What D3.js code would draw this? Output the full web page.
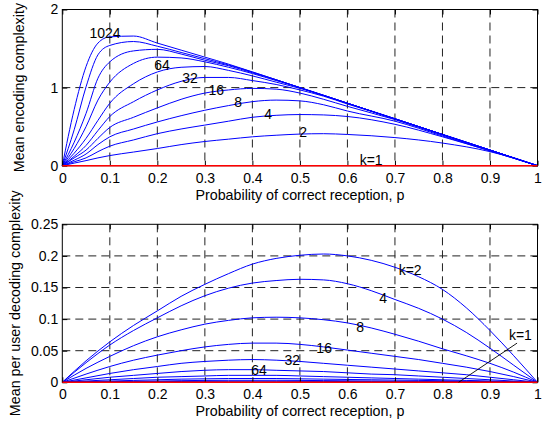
<!DOCTYPE html>
<html>
<head>
<meta charset="utf-8">
<script src="https://cdn.jsdelivr.net/npm/d3@7/dist/d3.min.js"></script>
<style>
  body { margin: 0; background: #fff; }
  svg { display: block; font-family: "Liberation Sans", Arial, sans-serif; }
  .grid line { stroke: #222; stroke-width: 1; stroke-dasharray: 8,5; }
  .axis text { font-size: 14px; fill: #000; }
  .axis line { stroke: #000; }
  .axis path { display: none; }
  .frame { fill: none; stroke: #000; stroke-width: 1; }
  .curve { fill: none; stroke: #0000ff; stroke-width: 1; }
  .curve-k1 { fill: none; stroke: #ff0000; stroke-width: 1.6; }
  .lbl { font-size: 14px; fill: #000; }
  .ttl { font-size: 14.3px; fill: #000; }
</style>
</head>
<body>
<svg id="chart" width="548" height="421"></svg>
<script>
// ---- top panel: mean encoding complexity ----
const encP = [0, 0.025, 0.05, 0.075, 0.1, 0.15, 0.2, 0.25, 0.3, 0.35, 0.4, 0.45, 0.5, 0.55, 0.6, 0.7, 0.8, 0.9, 1];
const encK1    = [0, 0, 0, 0, 0, 0, 0, 0, 0, 0, 0, 0, 0, 0, 0, 0, 0, 0, 0];
const encK2    = [0, 0.033, 0.065, 0.1, 0.13, 0.175, 0.22, 0.27, 0.31, 0.34, 0.37, 0.39, 0.405, 0.41, 0.4, 0.36, 0.29, 0.18, 0];
const encK4    = [0, 0.05, 0.1, 0.18, 0.25, 0.33, 0.41, 0.47, 0.52, 0.57, 0.62, 0.645, 0.655, 0.65, 0.63, 0.53, 0.37, 0.19, 0];
const encK8    = [0, 0.07, 0.15, 0.27, 0.37, 0.47, 0.56, 0.64, 0.71, 0.77, 0.82, 0.84, 0.83, 0.78, 0.7, 0.57, 0.38, 0.19, 0];
const encK16   = [0, 0.1, 0.2, 0.35, 0.49, 0.62, 0.74, 0.85, 0.93, 0.97, 0.99, 0.98, 0.93, 0.85, 0.76, 0.59, 0.39, 0.2, 0];
const encK32   = [0, 0.12, 0.26, 0.45, 0.63, 0.82, 0.97, 1.08, 1.13, 1.13, 1.09, 1.04, 0.97, 0.89, 0.79, 0.6, 0.4, 0.2, 0];
const encK64   = [0, 0.16, 0.35, 0.58, 0.8, 1.05, 1.2, 1.26, 1.27, 1.22, 1.15, 1.07, 0.99, 0.9, 0.8, 0.6, 0.4, 0.2, 0];
const encK128  = [0, 0.22, 0.5, 0.84, 1.07, 1.31, 1.39, 1.38, 1.33, 1.26, 1.18, 1.09, 1.0, 0.9, 0.8, 0.6, 0.4, 0.2, 0];
const encK256  = [0, 0.3, 0.67, 1.12, 1.33, 1.47, 1.49, 1.43, 1.35, 1.28, 1.19, 1.1, 1.0, 0.9, 0.8, 0.6, 0.4, 0.2, 0];
const encK512  = [0, 0.46, 1.01, 1.42, 1.54, 1.59, 1.53, 1.45, 1.37, 1.29, 1.2, 1.1, 1.0, 0.9, 0.8, 0.6, 0.4, 0.2, 0];
const encK1024 = [0, 0.72, 1.27, 1.57, 1.65, 1.66, 1.57, 1.48, 1.39, 1.3, 1.2, 1.1, 1.0, 0.9, 0.8, 0.6, 0.4, 0.2, 0];
const encSeries = [encK2, encK4, encK8, encK16, encK32, encK64, encK128, encK256, encK512, encK1024];
const encLabels = [
  { text: "1024", p: 0.090, v: 1.633 },
  { text: "64",   p: 0.210, v: 1.224 },
  { text: "32",   p: 0.269, v: 1.058 },
  { text: "16",   p: 0.324, v: 0.904 },
  { text: "8",    p: 0.370, v: 0.750 },
  { text: "4",    p: 0.433, v: 0.597 },
  { text: "2",    p: 0.507, v: 0.367 },
  { text: "k=1",  p: 0.650, v: 0.010 }
];

// ---- bottom panel: mean per user decoding complexity ----
const decP = [0, 0.05, 0.1, 0.15, 0.2, 0.25, 0.3, 0.35, 0.4, 0.45, 0.5, 0.55, 0.6, 0.65, 0.7, 0.75, 0.8, 0.85, 0.9, 0.95, 1];
const decK1    = [0, 0, 0, 0, 0, 0, 0, 0, 0, 0, 0, 0, 0, 0, 0, 0, 0, 0, 0, 0, 0];
const decK2    = [0, 0.034, 0.064, 0.09, 0.113, 0.136, 0.155, 0.172, 0.187, 0.196, 0.201, 0.203, 0.2, 0.193, 0.182, 0.167, 0.147, 0.118, 0.082, 0.042, 0];
const decK4    = [0, 0.031, 0.059, 0.082, 0.102, 0.121, 0.137, 0.149, 0.157, 0.161, 0.163, 0.162, 0.156, 0.145, 0.131, 0.117, 0.1, 0.079, 0.054, 0.027, 0];
const decK8    = [0, 0.022, 0.041, 0.058, 0.072, 0.083, 0.092, 0.098, 0.102, 0.103, 0.102, 0.099, 0.094, 0.086, 0.076, 0.065, 0.053, 0.042, 0.03, 0.016, 0];
const decK16   = [0, 0.013, 0.025, 0.035, 0.043, 0.05, 0.056, 0.06, 0.062, 0.062, 0.06, 0.056, 0.051, 0.046, 0.041, 0.036, 0.03, 0.024, 0.017, 0.009, 0];
const decK32   = [0, 0.007, 0.014, 0.02, 0.025, 0.03, 0.033, 0.035, 0.036, 0.035, 0.033, 0.03, 0.027, 0.024, 0.021, 0.018, 0.015, 0.012, 0.008, 0.004, 0];
const decK64   = [0, 0.004, 0.008, 0.011, 0.014, 0.017, 0.019, 0.02, 0.02, 0.019, 0.018, 0.017, 0.015, 0.013, 0.012, 0.01, 0.008, 0.006, 0.004, 0.002, 0];
const decK128  = [0, 0.002, 0.004, 0.006, 0.008, 0.009, 0.01, 0.011, 0.011, 0.011, 0.01, 0.009, 0.008, 0.007, 0.006, 0.005, 0.004, 0.003, 0.002, 0.001, 0];
const decK256  = [0, 0.001, 0.002, 0.003, 0.004, 0.005, 0.0055, 0.006, 0.006, 0.006, 0.0055, 0.005, 0.0045, 0.004, 0.0035, 0.003, 0.0025, 0.002, 0.0013, 0.0007, 0];
const decK512  = [0, 0.0005, 0.001, 0.0016, 0.002, 0.0026, 0.003, 0.0032, 0.0032, 0.0032, 0.003, 0.0027, 0.0024, 0.0021, 0.0018, 0.0015, 0.0013, 0.001, 0.0007, 0.0003, 0];
const decK1024 = [0, 0.0003, 0.0005, 0.0008, 0.001, 0.0013, 0.0015, 0.0016, 0.0017, 0.0016, 0.0015, 0.0014, 0.0012, 0.0011, 0.0009, 0.0008, 0.0006, 0.0005, 0.0003, 0.0002, 0];
const decSeries = [decK2, decK4, decK8, decK16, decK32, decK64, decK128, decK256, decK512, decK1024];
const decLabels = [
  { text: "k=2", p: 0.732, v: 0.170 },
  { text: "4",   p: 0.675, v: 0.125 },
  { text: "8",   p: 0.627, v: 0.080 },
  { text: "16",  p: 0.551, v: 0.0467 },
  { text: "32",  p: 0.484, v: 0.0274 },
  { text: "64",  p: 0.414, v: 0.0116 },
  { text: "k=1", p: 0.964, v: 0.067 }
];
const decPointer = [{ p: 0.834, v: 0 }, { p: 0.957, v: 0.062 }];

const xTicks = [0, 0.1, 0.2, 0.3, 0.4, 0.5, 0.6, 0.7, 0.8, 0.9, 1];
const encYTicks = [0, 1, 2];
const decYTicks = [0, 0.05, 0.1, 0.15, 0.2, 0.25];
const xTitle = "Probability of correct reception, p";

(function () {
  const svg = d3.select("#chart");

  function makePanel(opt) {
    const left = 62.3, right = 537.5;
    const x = d3.scaleLinear().domain([0, 1]).range([left, right]);
    const y = d3.scaleLinear().domain(opt.yDomain).range([opt.bottom, opt.top]);
    const g = svg.append("g");

    // dashed grid
    const grid = g.append("g").attr("class", "grid");
    grid.selectAll(".gx").data(xTicks.slice(1, -1)).join("line")
      .attr("x1", d => x(d)).attr("x2", d => x(d))
      .attr("y1", opt.top).attr("y2", opt.bottom);
    grid.selectAll(".gy").data(opt.yTicks.slice(1, -1)).join("line")
      .attr("x1", left).attr("x2", right)
      .attr("y1", d => y(d)).attr("y2", d => y(d));

    // curves
    const line = d3.line()
      .x((d, i) => x(opt.p[i]))
      .y(d => y(d))
      .curve(d3.curveMonotoneX);
    g.selectAll(".curve").data(opt.series).join("path")
      .attr("class", "curve")
      .attr("d", d => line(d));

    // axes, ticks pointing inwards on all four sides
    g.append("g").attr("class", "axis")
      .attr("transform", `translate(0,${opt.bottom})`)
      .call(d3.axisBottom(x).tickValues(xTicks).tickSizeInner(-5).tickSizeOuter(0).tickPadding(7).tickFormat(d3.format("~g")));
    g.append("g").attr("class", "axis")
      .attr("transform", `translate(0,${opt.top})`)
      .call(d3.axisTop(x).tickValues(xTicks).tickSizeInner(-5).tickSizeOuter(0).tickFormat(""));
    g.append("g").attr("class", "axis")
      .attr("transform", `translate(${left},0)`)
      .call(d3.axisLeft(y).tickValues(opt.yTicks).tickSizeInner(-5).tickSizeOuter(0).tickPadding(4).tickFormat(d3.format("~g")));
    g.append("g").attr("class", "axis")
      .attr("transform", `translate(${right},0)`)
      .call(d3.axisRight(y).tickValues(opt.yTicks).tickSizeInner(-5).tickSizeOuter(0).tickFormat(""));

    g.append("rect").attr("class", "frame")
      .attr("x", left).attr("y", opt.top)
      .attr("width", right - left).attr("height", opt.bottom - opt.top);

    // k=1 lies on the bottom edge, drawn over the frame
    g.append("path").attr("class", "curve-k1").attr("d", line(opt.k1));

    // curve labels
    g.selectAll(".lbl").data(opt.labels).join("text")
      .attr("class", "lbl")
      .attr("x", d => x(d.p)).attr("y", d => y(d.v))
      .attr("text-anchor", "middle")
      .text(d => d.text);

    if (opt.pointer) {
      g.append("line")
        .attr("x1", x(opt.pointer[0].p)).attr("y1", y(opt.pointer[0].v))
        .attr("x2", x(opt.pointer[1].p)).attr("y2", y(opt.pointer[1].v))
        .attr("stroke", "#000").attr("stroke-width", 0.9);
    }

    // titles
    g.append("text").attr("class", "ttl")
      .attr("x", (left + right) / 2).attr("y", opt.bottom + 34)
      .attr("text-anchor", "middle").text(xTitle);
    g.append("text").attr("class", "ttl")
      .attr("transform", `translate(${opt.yTitleX},${(opt.top + opt.bottom) / 2}) rotate(-90)`)
      .attr("text-anchor", "middle").text(opt.yTitle);
  }

  makePanel({
    top: 9.5, bottom: 165.7, yDomain: [0, 2], yTicks: encYTicks,
    p: encP, series: encSeries, k1: encK1, labels: encLabels,
    yTitle: "Mean encoding complexity", yTitleX: 23.5
  });
  makePanel({
    top: 224.3, bottom: 382.3, yDomain: [0, 0.25], yTicks: decYTicks,
    p: decP, series: decSeries, k1: decK1, labels: decLabels, pointer: decPointer,
    yTitle: "Mean per user decoding complexity", yTitleX: 19.5
  });
})();
</script>
</body>
</html>
